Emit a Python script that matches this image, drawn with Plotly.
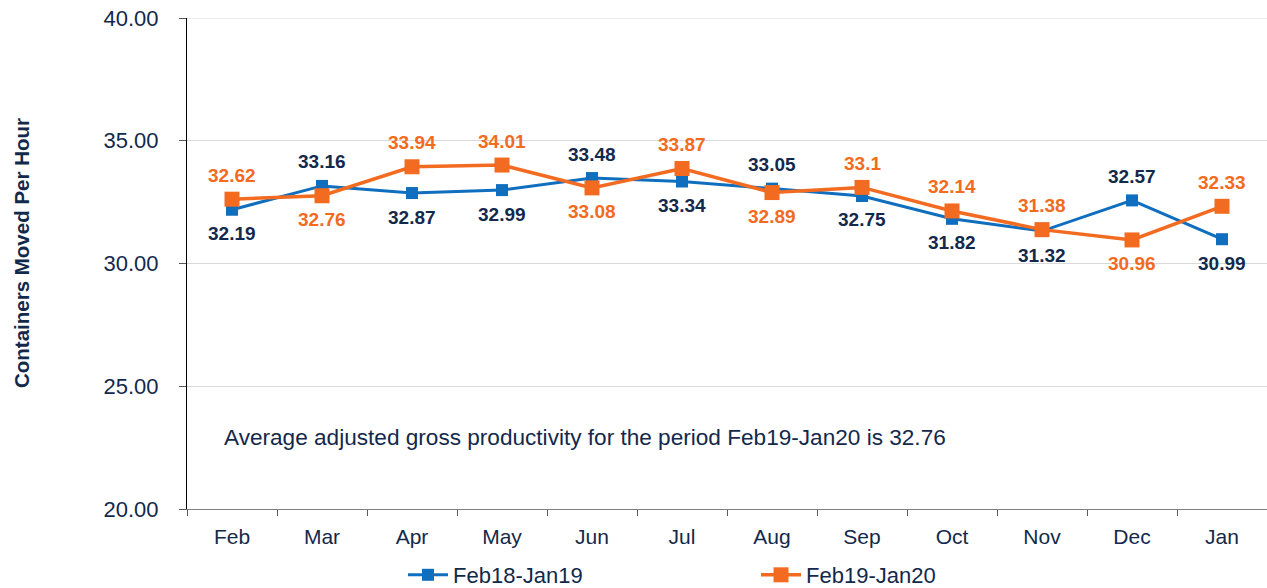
import plotly.graph_objects as go

months = ["Feb", "Mar", "Apr", "May", "Jun", "Jul", "Aug", "Sep", "Oct", "Nov", "Dec", "Jan"]
series_a_name = "Feb18-Jan19"
series_a = [32.19, 33.16, 32.87, 32.99, 33.48, 33.34, 33.05, 32.75, 31.82, 31.32, 32.57, 30.99]
series_a_labels = ["32.19", "33.16", "32.87", "32.99", "33.48", "33.34", "33.05", "32.75", "31.82", "31.32", "32.57", "30.99"]
series_a_pos = ["below", "above", "below", "below", "above", "below", "above", "below", "below", "below", "above", "below"]
series_b_name = "Feb19-Jan20"
series_b = [32.62, 32.76, 33.94, 34.01, 33.08, 33.87, 32.89, 33.10, 32.14, 31.38, 30.96, 32.33]
series_b_labels = ["32.62", "32.76", "33.94", "34.01", "33.08", "33.87", "32.89", "33.1", "32.14", "31.38", "30.96", "32.33"]
series_b_pos = ["above", "below", "above", "above", "below", "above", "below", "above", "above", "above", "below", "above"]
y_ticks = [20, 25, 30, 35, 40]
note = "Average adjusted gross productivity for the period Feb19\u2011Jan20 is 32.76"
y_title = "Containers Moved Per Hour"

BLUE = "#0F6EBE"
ORANGE = "#F26B21"
NAVY = "#13294B"
GRID = "#D9D9D9"
FONT = "Liberation Sans, Arial, sans-serif"

W, H = 1267, 588
L, R, T, B = 187, 0, 18, 79
PW, PH = W - L - R, H - T - B

fig = go.Figure()
fig.add_trace(go.Scatter(x=months, y=series_a, name=series_a_name, mode="lines+markers",
                         line=dict(color=BLUE, width=3),
                         marker=dict(symbol="square", size=12, color=BLUE)))
fig.add_trace(go.Scatter(x=months, y=series_b, name=series_b_name, mode="lines+markers",
                         line=dict(color=ORANGE, width=3.5),
                         marker=dict(symbol="square", size=15, color=ORANGE)))

annotations = []
for m, v, t, p in zip(months, series_a, series_a_labels, series_a_pos):
    annotations.append(dict(x=m, y=v, text=t, showarrow=False,
                            yshift=24 if p == "above" else -24,
                            font=dict(family=FONT, size=19, color=NAVY, weight="bold")))
for m, v, t, p in zip(months, series_b, series_b_labels, series_b_pos):
    annotations.append(dict(x=m, y=v, text=t, showarrow=False,
                            yshift=24 if p == "above" else -24,
                            font=dict(family=FONT, size=19, color=ORANGE, weight="bold")))
annotations.append(dict(xref="paper", yref="paper", x=(222 - L) / PW, y=(509 - 437) / PH,
                        xanchor="left", yanchor="middle", text=note, showarrow=False,
                        font=dict(family=FONT, size=22.6, color=NAVY)))
annotations.append(dict(xref="paper", yref="paper", x=(21 - L) / PW, y=(509 - 253) / PH,
                        xanchor="center", yanchor="middle", text=y_title, textangle=-90, showarrow=False,
                        font=dict(family=FONT, size=20.5, color=NAVY, weight="bold")))

fig.add_shape(type="line", xref="paper", yref="y", x0=0, x1=1, y0=y_ticks[-1], y1=y_ticks[-1],
              line=dict(color=GRID, width=1), layer="below")

fig.update_layout(
    width=W, height=H,
    margin=dict(l=L, r=R, t=T, b=B, autoexpand=False),
    paper_bgcolor="white", plot_bgcolor="white",
    font=dict(family=FONT, color=NAVY),
    showlegend=True,
    legend=dict(orientation="h", x=(403 - L) / PW, xanchor="left",
                y=(509 - 575) / PH, yanchor="middle",
                font=dict(family=FONT, size=22, color=NAVY),
                itemwidth=40,
                entrywidth=298, entrywidthmode="pixels", bgcolor="rgba(0,0,0,0)"),
    annotations=annotations,
    xaxis=dict(type="category", tickson="boundaries", ticks="outside", ticklen=6, tickcolor="#595959",
               showline=True, linecolor="#7F7F7F", linewidth=1, showgrid=False,
               tickfont=dict(family=FONT, size=21, color=NAVY), ticklabelstandoff=9,
               range=[-0.5, 11.5]),
    yaxis=dict(range=[y_ticks[0], y_ticks[-1]], tickvals=y_ticks, tickformat=".2f", ticks="outside", ticklen=7,
               tickcolor="#595959", showline=True, linecolor="#000000", linewidth=1,
               showgrid=True, gridcolor=GRID, gridwidth=1, zeroline=False,
               ticklabeloverflow="allow",
               tickfont=dict(family=FONT, size=22, color=NAVY), ticklabelstandoff=16),
)

fig.write_html("out.html", config={"displayModeBar": False},
               post_script="document.body.style.margin='0';document.body.style.overflow='hidden';")
